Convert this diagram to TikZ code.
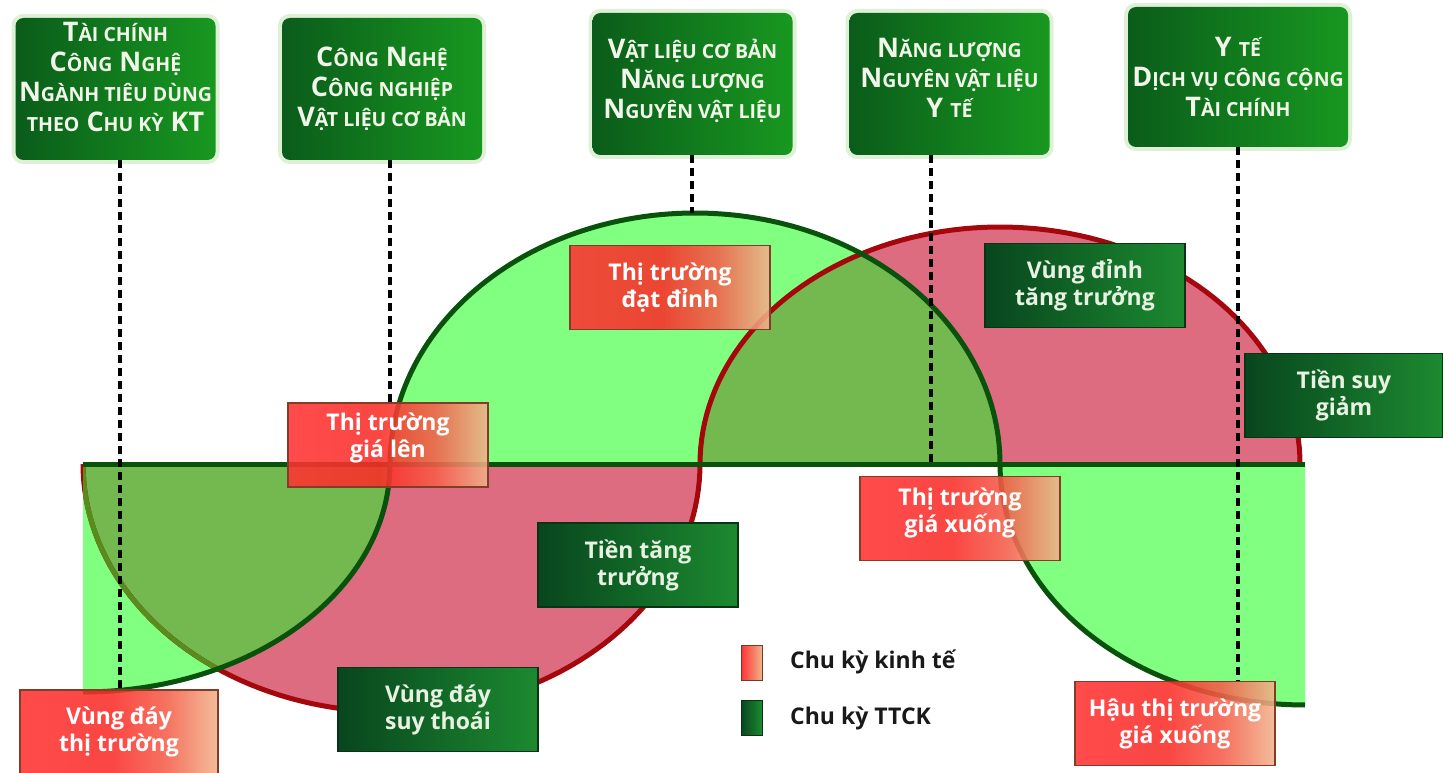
\documentclass[tikz,border=0pt]{standalone}
\usepackage{fontspec}
\setmainfont{Open Sans}
\definecolor{pinkf}{RGB}{221,108,128}
\definecolor{lgreen}{RGB}{128,255,128}
\definecolor{olivef}{RGB}{116,184,80}
\definecolor{gline}{RGB}{8,82,12}
\definecolor{rline}{RGB}{165,8,12}
\definecolor{oline}{RGB}{88,140,30}
\definecolor{rl}{RGB}{255,50,50}
\definecolor{rl2}{RGB}{250,45,40}
\definecolor{rm}{RGB}{245,95,75}
\definecolor{rr}{RGB}{240,180,140}
\definecolor{gl}{RGB}{8,70,30}
\definecolor{gr}{RGB}{28,138,48}
\definecolor{tl}{RGB}{10,92,26}
\definecolor{tr}{RGB}{24,152,32}
\definecolor{glow}{RGB}{222,240,214}
\definecolor{ttext}{RGB}{240,246,232}
\definecolor{gtext}{RGB}{232,242,226}
\pgfdeclarehorizontalshading{redsh}{100bp}{color(0bp)=(rl); color(25bp)=(rl); color(48bp)=(rl2); color(62bp)=(rm); color(75bp)=(rr); color(100bp)=(rr)}
\newcommand\sk[1]{{\fontsize{19.5}{30}\selectfont #1}}
\def\redcurve{plot[domain=180:0,samples=90] ({391.5+308.5*cos(\x)},{464+248*sin(\x)}) -- plot[domain=180:360,samples=90] ({1000+300*cos(\x)},{464+237*sin(\x)})}
\def\greencurve{plot[domain=90:0,samples=60] ({83+307*cos(\x)},{464+228*sin(\x)}) -- plot[domain=180:360,samples=120] ({695+305*cos(\x)},{464+251*sin(\x)}) -- plot[domain=180:90,samples=60] ({1305+305*cos(\x)},{464+241*sin(\x)})}
\def\greenregion{(83,464) -- plot[domain=90:0,samples=60] ({83+307*cos(\x)},{464+228*sin(\x)}) -- plot[domain=180:360,samples=120] ({695+305*cos(\x)},{464+251*sin(\x)}) -- plot[domain=180:90,samples=60] ({1305+305*cos(\x)},{464+241*sin(\x)}) -- (1305,464) -- cycle}
\tikzset{
  topbox/.style={rounded corners=8pt, minimum width=200pt, minimum height=142pt, inner sep=0pt,
    left color=tl, right color=tr, text=ttext, align=center,
    font=\fontsize{27}{30}\selectfont\bfseries,
    preaction={draw=glow, line width=8pt}},
  lab/.style={minimum width=200pt, minimum height=84pt, inner sep=0pt, align=center,
    line width=1.2pt, font=\fontsize{23}{27}\selectfont\bfseries},
  redlab/.style={lab, draw={rgb,255:red,130;green,60;blue,40}, shading=redsh,
    fill opacity=0.88, text opacity=1, text=white},
  greenlab/.style={lab, draw={rgb,255:red,10;green,50;blue,20}, left color=gl, right color=gr, text=gtext},
  dashline/.style={black, line width=3.5pt, dash pattern=on 8pt off 5pt},
  legtext/.style={anchor=west, inner sep=0pt, font=\fontsize{23}{26}\selectfont\bfseries, text={rgb,255:red,25;green,25;blue,25}}
}
\begin{document}
\begin{tikzpicture}[x=1pt,y=-1pt]
\useasboundingbox (0,0) rectangle (1443,773);
% fills
\fill[pinkf] \redcurve -- cycle;
\fill[lgreen] \greenregion;
\begin{scope}
  \clip \greenregion;
  \fill[olivef] \redcurve -- cycle;
\end{scope}
% outlines
\draw[rline, line width=5pt] \redcurve;
\begin{scope}
  \clip (0,464) rectangle (390,773);
  \clip \greenregion;
  \draw[oline, line width=5pt] \redcurve;
\end{scope}
\draw[gline, line width=5pt] \greencurve;
\draw[gline, line width=5pt] (83,464) -- (1305,464);

% top boxes
\node[topbox, text depth=24pt] (b1) at (115.5,89) {T\sk{ÀI CHÍNH}\\C\sk{ÔNG} N\sk{GHỆ}\\N\sk{GÀNH TIÊU DÙNG}\\\sk{THEO} C\sk{HU KỲ} KT};
\node[topbox] (b2) at (382,89) {C\sk{ÔNG} N\sk{GHỆ}\\C\sk{ÔNG NGHIỆP}\\V\sk{ẬT LIỆU CƠ BẢN}};
\node[topbox, text depth=11pt] (b3) at (692.5,84) {V\sk{ẬT LIỆU CƠ BẢN}\\N\sk{ĂNG LƯỢNG}\\N\sk{GUYÊN VẬT LIỆU}};
\node[topbox, text depth=12pt] (b4) at (949.5,84) {N\sk{ĂNG LƯỢNG}\\N\sk{GUYÊN VẬT LIỆU}\\Y \sk{TẾ}};
\node[topbox, minimum width=220pt, minimum height=140pt] (b5) at (1238,77) {Y \sk{TẾ}\\D\sk{ỊCH VỤ CÔNG CỘNG}\\T\sk{ÀI CHÍNH}};

% dashed guide lines
\coordinate (d1) at (120,692);
\coordinate (d2) at (390,403);
\coordinate (d3) at (692,213);
\coordinate (d4) at (931,464);
\coordinate (d5) at (1238,682);
\draw[dashline] (b1.south -| d1) -- (d1);
\draw[dashline] (b2.south -| d2) -- (d2);
\draw[dashline] (b3.south -| d3) -- (d3);
\draw[dashline] (b4.south -| d4) -- (d4);
\draw[dashline] (b5.south -| d5) -- (d5);

% phase labels
\node[redlab] (dinh) at (670,287.5) {Thị trường\\đạt đỉnh};
\node[redlab, text depth=20pt] (len) at (388,445) {Thị trường\\giá lên};
\node[redlab, text depth=17pt] (xuong) at (960,518.5) {Thị trường\\giá xuống};
\node[redlab, minimum width=198pt] (daytt) at (119,732) {Vùng đáy\\thị trường};
\node[redlab] (hau) at (1175,723.5) {Hậu thị trường\\giá xuống};
\node[greenlab] (dinhtt) at (1085,285.5) {Vùng đỉnh\\tăng trưởng};
\node[greenlab, minimum width=198pt] (tiensuy) at (1344,395.5) {Tiền suy\\giảm};
\node[greenlab] (tientang) at (638,565) {Tiền tăng\\trưởng};
\node[greenlab] (dayst) at (438,709.5) {Vùng đáy\\suy thoái};

% legend
\node[draw={rgb,255:red,110;green,60;blue,40}, line width=1pt, left color=rl, right color=rr, minimum width=21pt, minimum height=35pt, inner sep=0pt] (legr) at (751.5,662.5) {};
\node[draw={rgb,255:red,10;green,50;blue,20}, line width=1pt, left color=gl, right color=gr, minimum width=21pt, minimum height=35pt, inner sep=0pt] (legg) at (751.5,717.5) {};
\node[legtext] (legrt) at (790,662) {Chu kỳ kinh tế};
\node[legtext] (leggt) at (790,718) {Chu kỳ TTCK};
\end{tikzpicture}
\end{document}
